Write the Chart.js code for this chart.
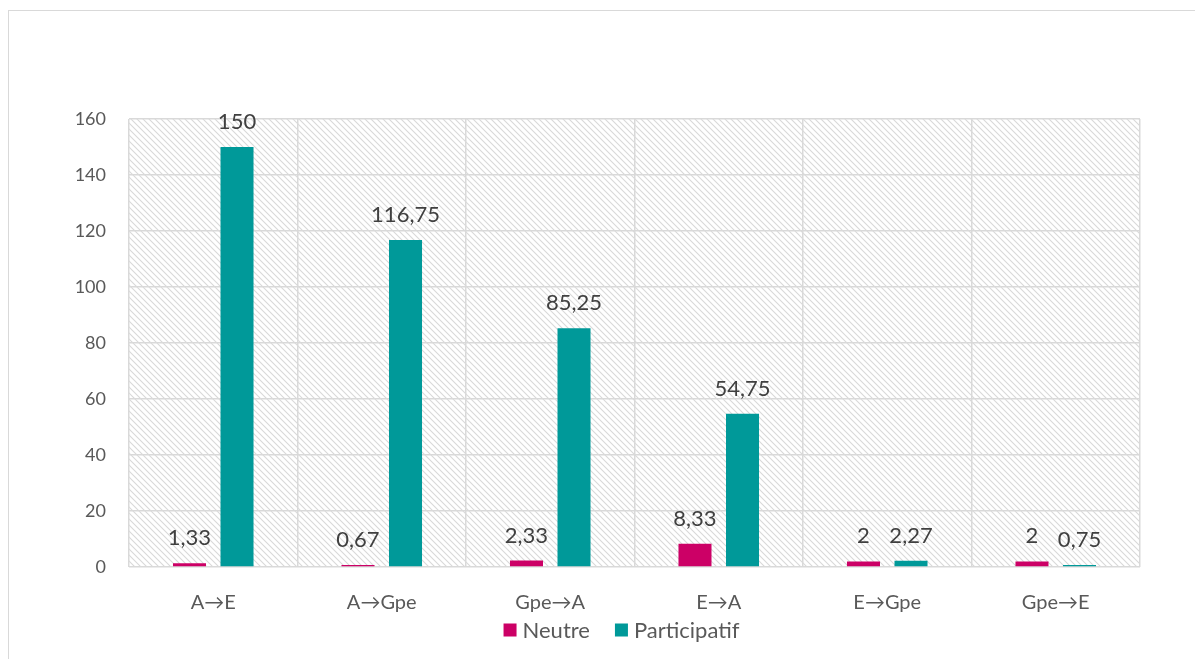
<!DOCTYPE html>
<html>
<head>
<meta charset="utf-8">
<script src="https://cdn.jsdelivr.net/npm/chart.js@4/dist/chart.umd.min.js"></script>
<style>
  html, body { margin: 0; padding: 0; background: #fff; }
  .frame {
    position: absolute; left: 8px; top: 10px; width: 1300px; height: 800px;
    border: 1px solid #d9d9d9; box-sizing: border-box;
  }
  .wrap { position: absolute; left: 0; top: 0; width: 1195px; height: 659px; }
</style>
</head>
<body>
<div class="frame"></div>
<div class="wrap"><canvas id="chart" width="1195" height="659"></canvas></div>
<script>
const categories = ['A→E', 'A→Gpe', 'Gpe→A', 'E→A', 'E→Gpe', 'Gpe→E'];
const neutreValues = [1.33, 0.67, 2.33, 8.33, 2, 2];
const participatifValues = [150, 116.75, 85.25, 54.75, 2.27, 0.75];
const yTicks = [0, 20, 40, 60, 80, 100, 120, 140, 160];

const textColor = '#595959';
const fontFamily = 'Lato, "Open Sans", sans-serif';

function makeHatch() {
  const size = 6;
  const c = document.createElement('canvas');
  c.width = size;
  c.height = size;
  const ctx = c.getContext('2d');
  ctx.fillStyle = '#fff';
  ctx.fillRect(0, 0, size, size);
  ctx.strokeStyle = '#d9d9d9';
  ctx.lineWidth = 1.1;
  ctx.beginPath();
  ctx.moveTo(-1, -1); ctx.lineTo(size + 1, size + 1);
  ctx.moveTo(-1, size - 1); ctx.lineTo(1, size + 1);
  ctx.moveTo(size - 1, -1); ctx.lineTo(size + 1, 1);
  ctx.stroke();
  return c;
}

// hatched plot background
const hatchBackground = {
  id: 'hatchBackground',
  beforeDraw(chart) {
    const { ctx, chartArea } = chart;
    ctx.save();
    ctx.fillStyle = ctx.createPattern(makeHatch(), 'repeat');
    ctx.fillRect(chartArea.left, chartArea.top,
      chartArea.right - chartArea.left, chartArea.bottom - chartArea.top);
    ctx.restore();
  },
};

// value labels above bars, decimal comma
const valueLabels = {
  id: 'valueLabels',
  afterDatasetsDraw(chart) {
    const { ctx } = chart;
    ctx.save();
    ctx.font = '22px ' + fontFamily;
    ctx.fillStyle = '#404040';
    ctx.textAlign = 'center';
    ctx.textBaseline = 'bottom';
    chart.data.datasets.forEach((ds, i) => {
      chart.getDatasetMeta(i).data.forEach((bar, j) => {
        const txt = String(ds.data[j]).replace('.', ',');
        ctx.fillText(txt, bar.x, bar.y - 14);
      });
    });
    ctx.restore();
  },
};

// legend drawn under the axis labels
const bottomLegend = {
  id: 'bottomLegend',
  afterDraw(chart) {
    const { ctx, chartArea } = chart;
    const box = 13;
    const textGap = 6;
    const itemGap = 25;
    const y = chartArea.bottom + 63;
    ctx.save();
    ctx.font = '22px ' + fontFamily;
    ctx.textBaseline = 'middle';
    const items = chart.data.datasets.map(ds => ({
      text: ds.label,
      color: ds.backgroundColor,
      w: box + textGap + ctx.measureText(ds.label).width,
    }));
    const total = items.reduce((s, it) => s + it.w, 0) + itemGap * (items.length - 1);
    let x = (chartArea.left + chartArea.right) / 2 - 13 - total / 2;
    items.forEach(it => {
      ctx.fillStyle = it.color;
      ctx.fillRect(x, y - box / 2, box, box);
      ctx.fillStyle = textColor;
      ctx.fillText(it.text, x + box + textGap, y + 1);
      x += it.w + itemGap;
    });
    ctx.restore();
  },
};

new Chart(document.getElementById('chart'), {
  type: 'bar',
  data: {
    labels: categories,
    datasets: [
      { label: 'Neutre', data: neutreValues, backgroundColor: '#cc0066' },
      { label: 'Participatif', data: participatifValues, backgroundColor: '#009999' },
    ],
  },
  options: {
    responsive: false,
    animation: false,
    layout: { padding: { top: 119, left: 0, right: 55, bottom: 43 } },
    datasets: {
      bar: { categoryPercentage: 0.564, barPercentage: 0.695 },
    },
    plugins: {
      legend: { display: false },
      tooltip: { enabled: false },
    },
    scales: {
      x: {
        afterFit(scale) { scale.height = 49; },
        grid: { color: '#d9d9d9', lineWidth: 1.5, drawTicks: false },
        border: { display: false },
        ticks: { color: textColor, font: { family: fontFamily, size: 20 }, padding: 24 },
      },
      y: {
        min: 0,
        max: 160,
        afterFit(scale) { scale.width = 129; },
        afterBuildTicks(scale) {
          scale.ticks = yTicks.map(v => ({ value: v }));
        },
        grid: { color: '#d9d9d9', lineWidth: 1.5, drawTicks: false },
        border: { display: false },
        ticks: { color: textColor, font: { family: fontFamily, size: 18 }, padding: 23 },
      },
    },
  },
  plugins: [hatchBackground, valueLabels, bottomLegend],
});
</script>
</body>
</html>
